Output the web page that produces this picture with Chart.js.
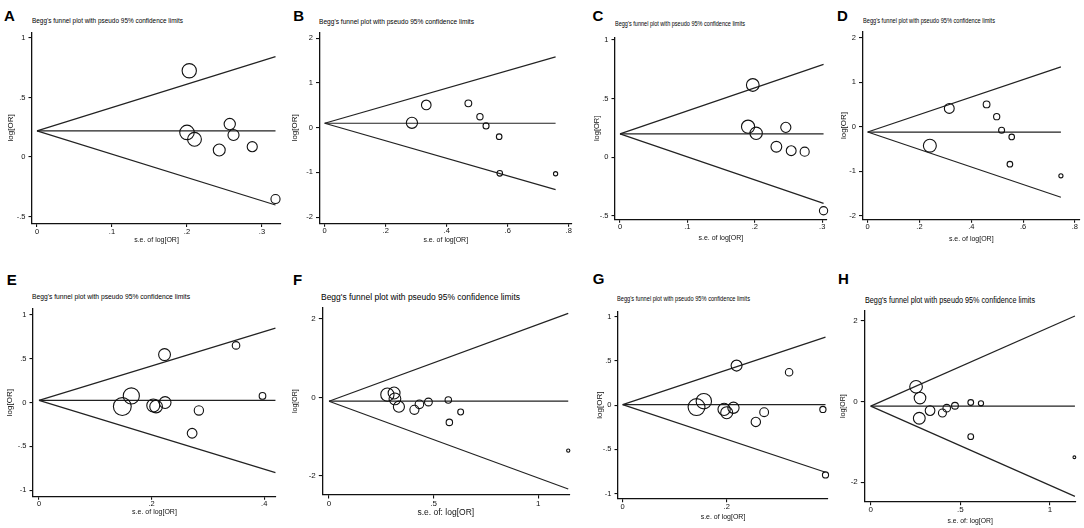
<!DOCTYPE html>
<html><head><meta charset="utf-8">
<script src="https://cdn.jsdelivr.net/npm/chart.js@4.4.1/dist/chart.umd.min.js"></script>
<style>
html,body{margin:0;padding:0;background:#fff;}
#wrap{position:relative;width:1084px;height:528px;overflow:hidden;background:#fff;}
#wrap canvas{position:absolute;}
.letter{position:absolute;font:bold 15px/15px "Liberation Sans",Arial,sans-serif;color:#000;white-space:nowrap;}
.ptitle{position:absolute;font-family:"Liberation Sans",Arial,sans-serif;color:#000;white-space:nowrap;transform-origin:0 0;}
</style></head><body><div id="wrap"></div>
<script>
// ---------------- DATA ----------------
const panelLetters = ['A','B','C','D','E','F','G','H'];

const seA  = [0.203, 0.200, 0.210, 0.243, 0.257, 0.262, 0.287, 0.318];
const lorA = [0.725, 0.207, 0.149, 0.059, 0.277, 0.185, 0.087, -0.353];

const seB  = [0.286, 0.333, 0.471, 0.509, 0.529, 0.572, 0.574, 0.757];
const lorB = [0.11, 0.51, 0.545, 0.246, 0.04, -0.20, -1.02, -1.03];

const seC  = [0.197, 0.190, 0.202, 0.246, 0.232, 0.254, 0.274, 0.302];
const lorC = [0.616, 0.261, 0.204, 0.255, 0.09, 0.056, 0.048, -0.455];

const seD  = [0.240, 0.315, 0.459, 0.498, 0.517, 0.556, 0.549, 0.746];
const lorD = [-0.426, 0.41, 0.50, 0.225, -0.08, -0.23, -0.84, -1.10];

const seE  = [0.148, 0.164, 0.203, 0.208, 0.224, 0.223, 0.272, 0.284, 0.350, 0.397];
const lorE = [-0.045, 0.076, -0.034, -0.045, 0.0, 0.547, -0.35, -0.09, 0.652, 0.076];

const seF  = [0.279, 0.311, 0.315, 0.334, 0.408, 0.432, 0.475, 0.570, 0.575, 0.629, 1.143];
const lorF = [0.067, 0.11, -0.04, -0.24, -0.32, -0.18, -0.12, -0.07, -0.64, -0.375, -1.36];

const seG  = [0.142, 0.156, 0.195, 0.200, 0.213, 0.219, 0.256, 0.272, 0.320, 0.385, 0.390];
const lorG = [-0.022, 0.045, -0.048, -0.086, -0.03, 0.447, -0.19, -0.08, 0.372, -0.049, -0.79];

const seH  = [0.253, 0.275, 0.271, 0.331, 0.400, 0.424, 0.470, 0.558, 0.615, 0.558, 1.136];
const lorH = [0.36, 0.08, -0.42, -0.23, -0.29, -0.17, -0.11, -0.03, -0.05, -0.875, -1.385];

// pooled (fixed) log[OR] = centre line of each funnel, and s.e. where the funnel lines stop
const pooledLogOR = [0.22, 0.10, 0.20, -0.12, 0.025, -0.10, 0.005, -0.12];
const funnelSeMax = [0.318, 0.757, 0.302, 0.746, 0.42, 1.143, 0.39, 1.139];

// tick labels
const xTickValues = [[0,.1,.2,.3],[0,.2,.4,.6,.8],[0,.1,.2,.3],[0,.2,.4,.6,.8],[0,.2,.4],[0,.5,1],[0,.2],[0,.5,1]];
const yTickValues = [[-.5,0,.5,1],[-2,-1,0,1,2],[-.5,0,.5,1],[-2,-1,0,1,2],[-1,-.5,0,.5,1],[-2,0,2],[-1,-.5,0,.5,1],[-2,0,2]];

const panelTitle = "Begg's funnel plot with pseudo 95% confidence limits";
const xAxisTitles = ['s.e. of log[OR]','s.e. of log[OR]','s.e. of log[OR]','s.e. of log[OR]','s.e. of log[OR]','s.e. of: log[OR]','s.e. of log[OR]','s.e. of: log[OR]'];
const yAxisTitle = 'log[OR]';

// ---------------- LAYOUT / STYLE (pixels) ----------------
// L,T,R,B = plot box; x0/xU, y0/yU = pixel of value 0 and pixels per unit
// fs = [tick font, title font, x-title font, y-title font]
const layout = [
 {L:32,   T:32.3, R:281,   B:223.5, x0:37,    xU:750,   y0:157,   yU:119,   ylabX:11,    xlabY:240.5, let:[4,10],     tt:[32,21.7,151],   k:1.45, fs:[7.5,8,7,8]},
 {L:319.5,T:32.3, R:572,   B:223.3, x0:324.7, xU:305,   y0:127.7, yU:44.7,  ylabX:295,   xlabY:240.5, let:[293.3,9.5],tt:[319,22.5,155],  k:1.6,  fs:[7.5,8,7,8]},
 {L:615,  T:37.5, R:826.7, B:219.3, x0:620,   xU:674,   y0:157.3, yU:117.4, ylabX:596.7, xlabY:238,   let:[592.5,10], tt:[615,24,130],    k:1.25, fs:[7.5,8,7,7.5]},
 {L:862.5,T:31.7, R:1080,  B:219.3, x0:867.7, xU:259,   y0:126.7, yU:44.6,  ylabX:844,   xlabY:239,   let:[837,9.5],  tt:[862.7,21.7,132],k:1.55, fs:[7.5,8,7,8]},
 {L:33,   T:307.3,R:276,   B:496.3, x0:39,    xU:563,   y0:401.7, yU:88.5,  ylabX:10,    xlabY:512.5, let:[6.7,274],  tt:[32,297.3,158],  k:1.32, fs:[7.5,8,7,8]},
 {L:322.3,T:307.3,R:569.3, B:495,   x0:329,   xU:209.3, y0:397.3, yU:39.2,  ylabX:295,   xlabY:512.3, let:[293,274],  tt:[320.7,297.3,199],k:1.85,fs:[8,8.4,8.5,7]},
 {L:618,  T:310.7,R:828,   B:498.7, x0:622.7, xU:520,   y0:404.7, yU:88.8,  ylabX:599.3, xlabY:516.7, let:[592.7,272.5],tt:[616.7,299,133],k:1.2,  fs:[7.5,8,7,8]},
 {L:864.3,T:310.7,R:1076,  B:501.7, x0:870.7, xU:179.3, y0:401.3, yU:40.4,  ylabX:842.7, xlabY:520.7, let:[838,272.5],tt:[865,300.7,170], k:1.6,  fs:[8,8.4,6.8,7]}
];

const panelSe  = [seA, seB, seC, seD, seE, seF, seG, seH];
const panelLor = [lorA, lorB, lorC, lorD, lorE, lorF, lorG, lorH];
const FAMILY = '"Liberation Sans", Arial, sans-serif';
const INK = '#111';

function fmt(v){
  if (Math.abs(v) < 1e-9) return '0';
  let s = String(Math.round(Math.abs(v)*1000)/1000);
  if (s.startsWith('0.')) s = s.slice(1);
  return (v < 0 ? '-' : '') + s;
}

const wrap = document.getElementById('wrap');

layout.forEach((P, i) => {
  const [tickFs, titleFs, xlFs, ylFs] = P.fs;
  // panel letter
  const lt = document.createElement('div');
  lt.className = 'letter';
  lt.textContent = panelLetters[i];
  lt.style.left = P.let[0] + 'px';
  lt.style.top = (P.let[1] - 2) + 'px';
  wrap.appendChild(lt);
  // panel title
  const tt = document.createElement('div');
  tt.className = 'ptitle';
  tt.textContent = panelTitle;
  tt.style.fontSize = titleFs + 'px';
  tt.style.lineHeight = titleFs + 'px';
  tt.style.left = P.tt[0] + 'px';
  tt.style.top = (P.tt[1] - 0.55 * titleFs) + 'px';
  wrap.appendChild(tt);
  const nat = tt.getBoundingClientRect().width;
  if (nat > 0) tt.style.transform = 'scaleX(' + (P.tt[2] / nat) + ')';

  // canvas box
  const ylLh = ylFs * 1.2, xlLh = xlFs * 1.2;
  const cx = Math.floor(P.ylabX - ylLh / 2 - 1);
  const cy = Math.floor(P.T - 8);
  const cr = Math.ceil(P.R + 10);
  const cb = Math.ceil(P.xlabY + xlLh / 2 + 2);
  const cw = cr - cx, ch = cb - cy;
  const cv = document.createElement('canvas');
  cv.width = cw; cv.height = ch;
  cv.style.left = cx + 'px'; cv.style.top = cy + 'px';
  cv.style.width = cw + 'px'; cv.style.height = ch + 'px';
  wrap.appendChild(cv);

  const xmin = (P.L - P.x0) / P.xU, xmax = (P.R - P.x0) / P.xU;
  const ymax = (P.y0 - P.T) / P.yU, ymin = (P.y0 - P.B) / P.yU;

  const b = pooledLogOR[i], sm = funnelSeMax[i];
  const se = panelSe[i], lor = panelLor[i];
  const lineDs = (y1) => ({
    data: [{x: 0, y: b}, {x: sm, y: y1}],
    showLine: true, pointRadius: 0, borderColor: '#222', borderWidth: 1.2, clip: false, order: 2
  });

  new Chart(cv, {
    type: 'scatter',
    data: { datasets: [
      lineDs(b), lineDs(b + 1.96 * sm), lineDs(b - 1.96 * sm),
      { data: se.map((s, j) => ({x: s, y: lor[j]})),
        pointRadius: se.map(s => Math.max(1.3, P.k / s)),
        pointBorderColor: '#111', pointBackgroundColor: 'rgba(0,0,0,0)',
        pointBorderWidth: 1.1, showLine: false, clip: false, order: 1 }
    ]},
    options: {
      responsive: false, animation: false, events: [],
      plugins: { legend: {display: false}, tooltip: {enabled: false}, title: {display: false} },
      layout: { padding: { left: 0, top: P.T - cy, right: cr - P.R, bottom: 0 } },
      scales: {
        x: {
          type: 'linear', position: 'bottom', min: xmin, max: xmax,
          afterBuildTicks: a => { a.ticks = xTickValues[i].map(v => ({value: v})); },
          afterFit: s => { s.height = cb - P.B; },
          ticks: { callback: v => fmt(v), font: {size: tickFs, family: FAMILY}, color: INK, padding: 0, maxRotation: 0, autoSkip: false },
          grid: { drawOnChartArea: false, drawTicks: true, tickLength: 3.5, color: INK, tickColor: INK, lineWidth: 1.1 },
          border: { display: true, color: INK, width: 1.3 },
          title: { display: true, text: xAxisTitles[i], color: INK, font: {size: xlFs, family: FAMILY},
                   padding: {top: 0, bottom: cb - P.xlabY - xlLh / 2} }
        },
        y: {
          type: 'linear', position: 'left', min: ymin, max: ymax,
          afterBuildTicks: a => { a.ticks = yTickValues[i].map(v => ({value: v})); },
          afterFit: s => { s.width = P.L - cx; },
          ticks: { callback: v => fmt(v), font: {size: tickFs, family: FAMILY}, color: INK, padding: 3, autoSkip: false },
          grid: { drawOnChartArea: false, drawTicks: true, tickLength: 3.5, color: INK, tickColor: INK, lineWidth: 1.1 },
          border: { display: true, color: INK, width: 1.3 },
          title: { display: true, text: yAxisTitle, color: INK, font: {size: ylFs, family: FAMILY},
                   padding: {top: P.ylabX - cx - ylLh / 2, bottom: 0} }
        }
      }
    }
  });
});
</script>
</body></html>
